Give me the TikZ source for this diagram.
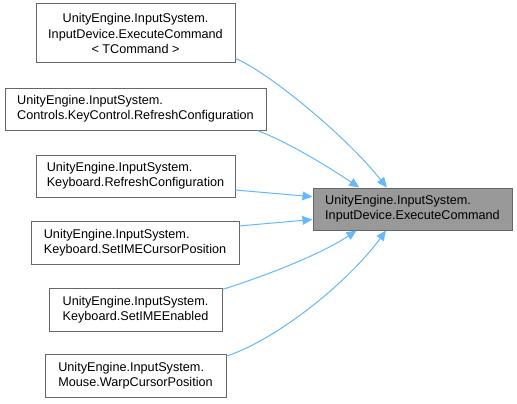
\documentclass[tikz,border=0pt]{standalone}
\usepackage{fontspec}
\setmainfont{Liberation Sans}
\usetikzlibrary{arrows.meta}
\definecolor{edgeblue}{HTML}{63B8FF}
\definecolor{boxborder}{HTML}{666666}
\definecolor{curfill}{HTML}{999999}
\tikzset{
  box/.style={draw=boxborder, fill=white, line width=0.75pt, inner sep=0pt,
    font=\fontsize{9.5}{11.4}\selectfont, align=left},
  curbox/.style={box, fill=curfill},
  calls/.style={draw=edgeblue, line width=0.75pt, -{Triangle[length=7.5pt,width=6.5pt]}}
}
\begin{document}
\begin{tikzpicture}[x=0.75pt,y=-0.75pt]
\useasboundingbox (0,0) rectangle (517,403);
\node[box, align=center, minimum width=199*0.75pt, minimum height=59*0.75pt] (b1) at (135.5,33.5)
  {UnityEngine.InputSystem.\\InputDevice.ExecuteCommand\\\textless{} TCommand \textgreater{}};
\node[box, minimum width=261*0.75pt, minimum height=42*0.75pt] (b2) at (135.5,109)
  {UnityEngine.InputSystem.\\Controls.KeyControl.RefreshConfiguration};
\node[box, minimum width=199*0.75pt, minimum height=42*0.75pt] (b3) at (135.5,176)
  {UnityEngine.InputSystem.\\Keyboard.RefreshConfiguration};
\node[box, minimum width=208*0.75pt, minimum height=43*0.75pt] (b4) at (135,242.5)
  {UnityEngine.InputSystem.\\Keyboard.SetIMECursorPosition};
\node[box, minimum width=173*0.75pt, minimum height=43*0.75pt] (b5) at (135.5,309.5)
  {UnityEngine.InputSystem.\\Keyboard.SetIMEEnabled};
\node[box, minimum width=181*0.75pt, minimum height=43*0.75pt] (b6) at (135.5,375.5)
  {UnityEngine.InputSystem.\\Mouse.WarpCursorPosition};
\node[curbox, minimum width=199*0.75pt, minimum height=42*0.75pt] (r) at (412.5,209)
  {UnityEngine.InputSystem.\\InputDevice.ExecuteCommand};

\draw[calls] (b1.-14.9) .. controls (268,72) and (345,135) .. (r.140.5);
\draw[calls] (b2.-10) .. controls (290,143) and (330,168) .. (r.158.2);
\draw[calls] (b3.-8) -- (r.173.7);
\draw[calls] (b4.9) -- (r.186.3);
\draw[calls] (b5.13.3) .. controls (262,277) and (320,255) .. (r.201.8);
\draw[calls] (b6.12.8) .. controls (280,338) and (350,280) .. (r.219.5);
\end{tikzpicture}
\end{document}
